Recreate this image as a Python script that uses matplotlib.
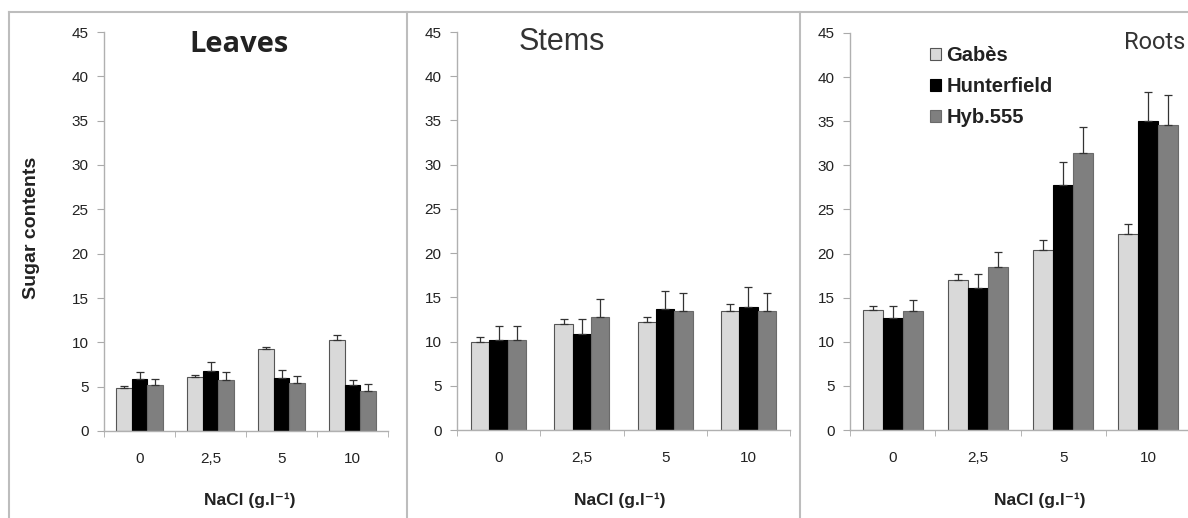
import numpy as np
import matplotlib
matplotlib.use("Agg")
import matplotlib.pyplot as plt
from matplotlib.lines import Line2D
from matplotlib.patches import Patch

# NaCl doses (category labels)
doses = ["0", "2,5", "5", "10"]
varieties = ["Gabès", "Hunterfield", "Hyb.555"]

# Leaves
leaves_gabes = [4.9, 6.1, 9.2, 10.3]
leaves_gabes_err = [0.15, 0.2, 0.3, 0.5]
leaves_hunter = [5.9, 6.75, 6.0, 5.15]
leaves_hunter_err = [0.8, 1.05, 0.9, 0.65]
leaves_hyb = [5.15, 5.8, 5.4, 4.5]
leaves_hyb_err = [0.7, 0.8, 0.8, 0.8]

# Stems
stems_gabes = [10.0, 11.95, 12.25, 13.5]
stems_gabes_err = [0.5, 0.55, 0.55, 0.7]
stems_hunter = [10.2, 10.9, 13.7, 13.95]
stems_hunter_err = [1.6, 1.65, 2.0, 2.25]
stems_hyb = [10.2, 12.8, 13.4, 13.5]
stems_hyb_err = [1.6, 2.0, 2.1, 2.0]

# Roots
roots_gabes = [13.6, 16.95, 20.4, 22.2]
roots_gabes_err = [0.5, 0.75, 1.1, 1.2]
roots_hunter = [12.75, 16.1, 27.75, 35.0]
roots_hunter_err = [1.35, 1.6, 2.65, 3.3]
roots_hyb = [13.5, 18.45, 31.4, 34.55]
roots_hyb_err = [1.2, 1.75, 3.0, 3.45]

colors = ["#d9d9d9", "#000000", "#7f7f7f"]
edges = ["#555555", "#000000", "#6a6a6a"]

W, H = 1188, 518
fig = plt.figure(figsize=(W / 100, H / 100), dpi=100)

def px_axes(x0, x1, y_top, y_bot):
    return fig.add_axes([x0 / W, 1 - y_bot / H, (x1 - x0) / W, (y_bot - y_top) / H])

FONT = ["Liberation Sans", "DejaVu Sans"]

def draw_panel(ax, series, errs, bw):
    x = np.arange(len(doses))
    for i, (vals, err) in enumerate(zip(series, errs)):
        pos = x + (i - 1) * bw
        ax.bar(pos, vals, width=bw, color=colors[i], edgecolor=edges[i], linewidth=0.8, zorder=2)
        ax.errorbar(pos, vals, yerr=[np.zeros(len(err)), err], fmt="none",
                    ecolor="#333333", elinewidth=0.9, capsize=3, capthick=0.9, zorder=3)
    ax.set_xlim(-0.5, 3.5)
    ax.set_ylim(0, 45)
    ax.set_yticks(np.arange(0, 46, 5))
    ax.set_xticks(x)
    ax.set_xticklabels(doses)
    ax.set_xticks(np.arange(-0.5, 4, 1), minor=True)
    ax.tick_params(axis="x", which="major", length=0, pad=15, labelsize=11, labelcolor="#222222")
    ax.tick_params(axis="x", which="minor", length=4, color="#aaaaaa", direction="out")
    ax.tick_params(axis="y", length=5, color="#aaaaaa", pad=6, labelsize=11, labelcolor="#222222")
    for lab in ax.get_xticklabels() + ax.get_yticklabels():
        lab.set_family(FONT)
    for s in ["top", "right"]:
        ax.spines[s].set_visible(False)
    for s in ["left", "bottom"]:
        ax.spines[s].set_color("#b0b0b0")
        ax.spines[s].set_linewidth(1.0)

ax1 = px_axes(104, 388, 32, 431)
draw_panel(ax1, [leaves_gabes, leaves_hunter, leaves_hyb],
           [leaves_gabes_err, leaves_hunter_err, leaves_hyb_err], 0.22)
ax2 = px_axes(457, 790, 32, 430)
draw_panel(ax2, [stems_gabes, stems_hunter, stems_hyb],
           [stems_gabes_err, stems_hunter_err, stems_hyb_err], 0.22)
ax3 = px_axes(850, 1191, 33, 430)
draw_panel(ax3, [roots_gabes, roots_hunter, roots_hyb],
           [roots_gabes_err, roots_hunter_err, roots_hyb_err], 0.235)

# panel titles
fig.text(239 / W, 1 - 45 / H, "Leaves", fontsize=21, fontweight="bold",
         family=["Open Sans", "DejaVu Sans"], color="#222222", ha="center", va="center")
fig.text(562 / W, 1 - 42 / H, "Stems", fontsize=22,
         family=FONT, color="#333333", ha="center", va="center")
fig.text(1185 / W, 1 - 42 / H, "Roots", fontsize=17,
         family=["Roboto", "Liberation Sans", "DejaVu Sans"],
         color="#333333", ha="right", va="center")

# y label and x labels
fig.text(32 / W, 1 - 228 / H, "Sugar contents", rotation=90, fontsize=14,
         fontweight="bold", family=FONT, color="#222222", ha="center", va="center")
for xc in [250, 620, 1040]:
    fig.text(xc / W, 1 - 500 / H, "NaCl (g.l⁻¹)", fontsize=12.5, fontweight="bold",
             family=FONT, color="#222222", ha="center", va="center")

# legend inside roots panel
handles = [Patch(facecolor=colors[i], edgecolor=edges[i], linewidth=0.8) for i in range(3)]
leg = fig.legend(handles, varieties, loc="upper left",
                 bbox_to_anchor=(920 / W, 1 - 36 / H), frameon=False,
                 handlelength=0.55, handleheight=0.55, handletextpad=0.25,
                 labelspacing=0.6, borderpad=0,
                 prop={"family": FONT, "weight": "bold", "size": 14.5})
for t in leg.get_texts():
    t.set_color("#222222")

# grey panel frames
frame = dict(color="#bdbdbd", linewidth=1.5, transform=fig.transFigure)
fig.add_artist(Line2D([9 / W, 1], [1 - 12 / H, 1 - 12 / H], **frame))
for xv in [9, 407, 800]:
    fig.add_artist(Line2D([xv / W, xv / W], [0, 1 - 12 / H], **frame))

fig.savefig("out.png", dpi=100, facecolor="white")
